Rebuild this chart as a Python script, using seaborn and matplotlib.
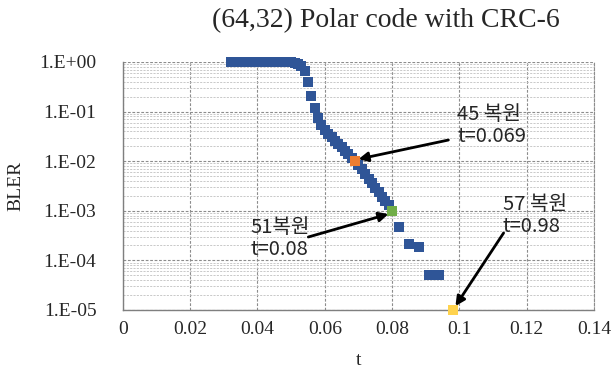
import matplotlib
matplotlib.use('Agg')
import matplotlib.pyplot as plt
import numpy as np
import pandas as pd
import seaborn as sns

# BLER vs t
t_vals = [0.032, 0.033, 0.034, 0.035, 0.036, 0.037, 0.038, 0.039, 0.040, 0.041,
          0.042, 0.043, 0.044, 0.045, 0.046, 0.047, 0.048, 0.049, 0.050, 0.051,
          0.052, 0.053, 0.054, 0.055, 0.056, 0.057, 0.058, 0.059, 0.060, 0.061,
          0.062, 0.063, 0.064, 0.065, 0.066, 0.067, 0.068, 0.069, 0.070, 0.071,
          0.072, 0.073, 0.074, 0.075, 0.076, 0.077, 0.078, 0.079, 0.080, 0.082,
          0.085, 0.088, 0.091, 0.094, 0.098]
bler_vals = [1.0, 1.0, 1.0, 1.0, 1.0, 1.0, 1.0, 1.0, 1.0, 1.0,
             1.0, 1.0, 1.0, 1.0, 1.0, 1.0, 1.0, 1.0, 0.98, 0.96,
             0.92, 0.84, 0.66, 0.40, 0.21, 0.117, 0.074, 0.054, 0.043, 0.036,
             0.031, 0.026, 0.022, 0.019, 0.016, 0.0138, 0.0117, 0.0100, 0.0083, 0.0068,
             0.0055, 0.0044, 0.0036, 0.0029, 0.0024, 0.0019, 0.0016, 0.0013, 0.00099, 0.00047,
             0.00021, 0.00019, 0.00005, 0.00005, 0.00001]

# highlighted points
hl_t = [0.069, 0.080, 0.098]
hl_bler = [0.0100, 0.00099, 0.00001]
hl_colors = ['#ED7D31', '#70AD47', '#FFD34E']

x_ticks = [0, 0.02, 0.04, 0.06, 0.08, 0.1, 0.12, 0.14]
x_ticklabels = ['0', '0.02', '0.04', '0.06', '0.08', '0.1', '0.12', '0.14']
y_ticks = [1e0, 1e-1, 1e-2, 1e-3, 1e-4, 1e-5]
y_ticklabels = ['1.E+00', '1.E-01', '1.E-02', '1.E-03', '1.E-04', '1.E-05']

sns.set_style('white')
plt.rcParams['font.family'] = ['Liberation Serif', 'DejaVu Serif']

df = pd.DataFrame({'t': t_vals, 'BLER': bler_vals})
df_hl = pd.DataFrame({'t': hl_t, 'BLER': hl_bler, 'c': hl_colors})

fig = plt.figure(figsize=(6.13, 3.72), dpi=100)
ax = fig.add_axes([0.2003, 0.1667, 0.7690, 0.6667])

ax.set_yscale('log')
ax.set_xlim(0, 0.14)
ax.set_ylim(1e-5, 1e0)

# grid (Excel-like dashed)
ax.set_axisbelow(True)
ax.grid(which='major', axis='both', color='#8c8c8c', linestyle=(0, (2.5, 1.5)), linewidth=0.8)
ax.grid(which='minor', axis='y', color='#c0c0c0', linestyle=(0, (2.5, 1.5)), linewidth=0.6)

sns.scatterplot(data=df, x='t', y='BLER', marker='s', s=50, color='#2F5597',
                linewidth=0, ax=ax, zorder=3, legend=False, clip_on=False)
sns.scatterplot(data=df_hl, x='t', y='BLER', hue='c', palette=dict(zip(hl_colors, hl_colors)),
                marker='s', s=50, linewidth=0, ax=ax, zorder=4, legend=False, clip_on=False)

ax.set_xticks(x_ticks)
ax.set_xticklabels(x_ticklabels)
ax.set_yticks(y_ticks)
ax.set_yticklabels(y_ticklabels)
ax.tick_params(axis='both', which='both', length=0, labelsize=14)
ax.tick_params(axis='y', pad=19)
ax.tick_params(axis='x', pad=8)

for side in ['left', 'bottom']:
    ax.spines[side].set_color('#7f7f7f')
    ax.spines[side].set_linewidth(1.0)
ax.spines['top'].set_visible(False)
ax.spines['right'].set_color('#8c8c8c')
ax.spines['right'].set_linewidth(0.8)
ax.spines['right'].set_linestyle((0, (2.5, 1.5)))

ax.set_xlabel('t', fontsize=14)
ax.set_ylabel('BLER', fontsize=14)
ax.xaxis.set_label_coords(0.5, -0.17)
ax.yaxis.set_label_coords(-0.208, 0.5)

fig.text(0.63, 0.945, '(64,32) Polar code with CRC-6', fontsize=20,
         ha='center', va='center')

# annotations
kr = ['Noto Sans CJK KR', 'DejaVu Sans']
arrow = dict(arrowstyle='-|>', color='black', lw=2, mutation_scale=14, shrinkA=0, shrinkB=0)
ax.annotate('', xy=(0.0700, 0.011), xytext=(0.0967, 0.0267), arrowprops=arrow)
ax.annotate('', xy=(0.0789, 8.6e-4), xytext=(0.0551, 2.96e-4), arrowprops=arrow)
ax.annotate('', xy=(0.0988, 1.2e-5), xytext=(0.1131, 3.57e-4), arrowprops=arrow)

ax.text(0.0994, 0.14, '45 복원\nt=0.069', family=kr, fontsize=14.5, ha='left', va='top',
        linespacing=1.05)
ax.text(0.0379, 7.4e-4, '51복원\nt=0.08', family=kr, fontsize=14.5, ha='left', va='top',
        linespacing=1.05)
ax.text(0.1128, 2.15e-3, '57 복원\nt=0.98', family=kr, fontsize=14.5, ha='left', va='top',
        linespacing=1.05)

fig.savefig('out.png', dpi=100)
